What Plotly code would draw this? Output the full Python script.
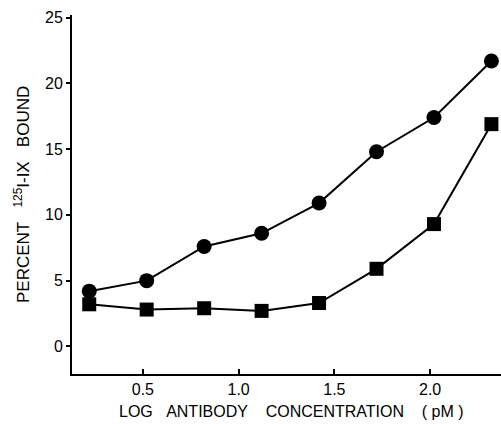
import plotly.graph_objects as go

log_conc = [0.22, 0.52, 0.82, 1.12, 1.42, 1.72, 2.02, 2.32]
circles = [4.2, 5.0, 7.6, 8.6, 10.9, 14.8, 17.4, 21.7]
squares = [3.2, 2.8, 2.9, 2.7, 3.3, 5.9, 9.3, 16.9]

x_ticks = [0.5, 1.0, 1.5, 2.0]
x_tick_text = ["0.5", "1.0", "1.5", "2.0"]
y_ticks = [0, 5, 10, 15, 20, 25]
y_tick_text = ["0", "5", "10", "15", "20", "25"]

FONT = "Liberation Sans, Arial, sans-serif"
sp = "\u00a0"

fig = go.Figure()
fig.add_trace(go.Scatter(
    x=log_conc, y=circles, mode="lines+markers",
    line=dict(color="black", width=2),
    marker=dict(symbol="circle", size=15, color="black"),
    cliponaxis=False, showlegend=False))
fig.add_trace(go.Scatter(
    x=log_conc, y=squares, mode="lines+markers",
    line=dict(color="black", width=2),
    marker=dict(symbol="square", size=14, color="black"),
    cliponaxis=False, showlegend=False))

fig.update_layout(
    width=501, height=424,
    margin=dict(l=72, r=0, t=15, b=50),
    paper_bgcolor="white", plot_bgcolor="white",
    font=dict(family=FONT, color="black", size=16),
    xaxis=dict(
        range=[0.13, 2.37], showgrid=False, zeroline=False,
        showline=True, linecolor="black", linewidth=2,
        ticks="inside", ticklen=5, tickwidth=1.5, tickcolor="black",
        tickvals=x_ticks, ticktext=x_tick_text,
        tickfont=dict(size=16),
    ),
    yaxis=dict(
        range=[-2.1, 25.2], showgrid=False, zeroline=False,
        showline=True, linecolor="black", linewidth=2,
        ticks="outside", ticklen=4, tickwidth=1.5, tickcolor="black",
        tickvals=y_ticks, ticktext=y_tick_text,
        tickfont=dict(size=16),
    ),
)

fig.add_annotation(
    text=f"LOG{sp*3}ANTIBODY{sp*4}CONCENTRATION{sp*4}({sp}pM{sp})",
    xref="paper", yref="paper", x=(291 - 72) / 429, y=(424 - 411 - 50) / 359,
    showarrow=False, font=dict(size=16),
    xanchor="center", yanchor="middle")

fig.add_annotation(
    text=f"PERCENT{sp*3}<sup>125</sup>I-IX{sp*3}BOUND",
    xref="paper", yref="paper", x=(22 - 72) / 429, y=(374 - 195) / 359,
    textangle=-90, showarrow=False, font=dict(size=17),
    xanchor="center", yanchor="middle")

fig.write_html("out.html", config={"displayModeBar": False},
               post_script="document.body.style.margin='0';document.body.style.padding='0';")
